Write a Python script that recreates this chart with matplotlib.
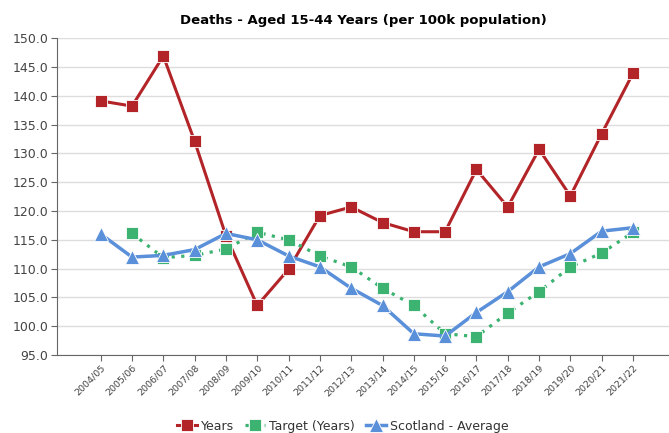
import matplotlib
matplotlib.use("Agg")
import matplotlib.pyplot as plt
import numpy as np

categories = ["2004/05", "2005/06", "2006/07", "2007/08", "2008/09", "2009/10",
              "2010/11", "2011/12", "2012/13", "2013/14", "2014/15", "2015/16",
              "2016/17", "2017/18", "2018/19", "2019/20", "2020/21", "2021/22"]
years = [139.1, 138.2, 146.9, 132.1, 115.7, 103.6, 109.9, 119.2, 120.7, 118.0,
         116.4, 116.4, 127.2, 120.7, 130.7, 122.6, 133.4, 143.9]
target = [None, 116.1, 111.9, 112.3, 113.4, 116.3, 115.0, 112.2, 110.3, 106.6,
          103.6, 98.7, 98.2, 102.3, 106.0, 110.3, 112.7, 116.3]
scotland = [116.0, 112.0, 112.3, 113.3, 116.1, 115.0, 112.2, 110.3, 106.6, 103.6,
            98.7, 98.3, 102.4, 106.0, 110.3, 112.6, 116.5, 117.1]
yticks = [95.0, 100.0, 105.0, 110.0, 115.0, 120.0, 125.0, 130.0, 135.0, 140.0, 145.0, 150.0]

plt.rcParams['font.family'] = ['DejaVu Sans']
fig = plt.figure(figsize=(6.69, 4.33), dpi=100)
ax = fig.add_axes([0.085, 0.18, 0.915, 0.732])

x = np.arange(len(categories))
tx = np.array([i for i, v in enumerate(target) if v is not None])
tv = np.array([v for v in target if v is not None])

red = "#B22427"
green = "#3CB371"
blue = "#5A8FD9"

ax.plot(x, years, color=red, lw=2.2, marker="s", ms=8.5, mec="white", mew=0.6,
        label="Years", zorder=3)
ax.plot(tx, tv, color=green, lw=2.3, ls=(0, (1, 2)), marker="s", ms=8.5, mec="white",
        mew=0.6, label="Target (Years)", zorder=4)
ax.plot(x, scotland, color=blue, lw=2.5, marker="^", ms=10, mec="white", mew=0.6,
        label="Scotland - Average", zorder=5)

ax.set_ylim(95, 150)
ax.set_xlim(-1.4, 18.15)
ax.set_yticks(yticks)
ax.set_yticklabels([f"{v:.1f}" for v in yticks], fontsize=9, color="#444444")
ax.set_xticks(x)
ax.set_xticklabels(categories, rotation=45, ha="right", rotation_mode="anchor",
                   fontsize=6.8, color="#444444")
ax.grid(axis="y", color="#DDDDDD", lw=1)
ax.set_axisbelow(True)
for s in ["top", "right"]:
    ax.spines[s].set_visible(False)
ax.spines["left"].set_color("#666666")
ax.spines["bottom"].set_color("#666666")
ax.tick_params(axis="both", length=4, color="#666666", pad=2)

ax.set_title("Deaths - Aged 15-44 Years (per 100k population)", fontsize=9.5,
             fontweight="bold", pad=10)

ax.legend(loc="lower center", bbox_to_anchor=(0.467, -0.28), ncol=3, frameon=False,
          fontsize=9, handlelength=1.6, columnspacing=0.9, handletextpad=0.3,
          labelcolor="#333333")

fig.savefig("out.png", dpi=100)
